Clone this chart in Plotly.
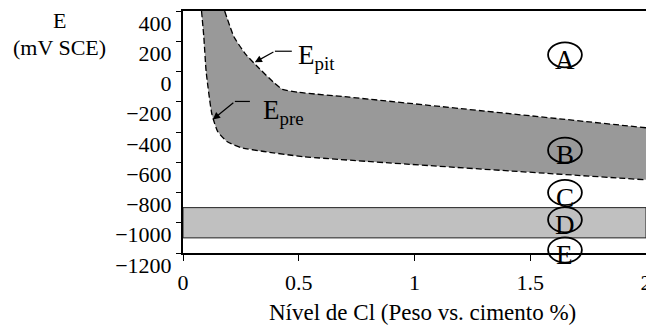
import plotly.graph_objects as go

# ---- data ----
epit_x = [0.18, 0.22, 0.27, 0.32, 0.39, 0.43, 0.50, 0.72, 2.0]
epit_y = [400, 230, 115, 35, -70, -118, -138, -170, -372]
epre_x = [0.08, 0.09, 0.10, 0.125, 0.15, 0.19, 0.25, 0.35, 0.52, 2.0]
epre_y = [400, 227, 0, -284, -397, -463, -503, -529, -563, -716]

band_d = [-1100, -900]           # imperfect passivity band (D)
zone_labels = ["A", "B", "C", "D", "E"]
zone_x = [1.65, 1.65, 1.65, 1.65, 1.65]
zone_y = [110, -520, -800, -980, -1180]

x_ticks = [0, 0.5, 1, 1.5, 2]
x_ticktext = ["0", "0.5", "1", "1.5", "2"]
y_ticks = [400, 200, 0, -200, -400, -600, -800, -1000, -1200]
x_range = [0, 2]
y_range = [-1200, 400]

FONT = "Liberation Serif, Times New Roman, DejaVu Serif, serif"

fig = go.Figure()

# lower curve (Epre)
fig.add_trace(go.Scatter(
    x=epre_x, y=epre_y, mode="lines",
    line=dict(color="black", width=1.3, dash="6px,3px", shape="spline", smoothing=0.5),
    showlegend=False, hoverinfo="skip"))
# upper curve (Epit) with fill to the lower one
fig.add_trace(go.Scatter(
    x=epit_x, y=epit_y, mode="lines", fill="tonexty", fillcolor="#999999",
    line=dict(color="black", width=1.3, dash="6px,3px", shape="spline", smoothing=0.5),
    showlegend=False, hoverinfo="skip"))

# D band
fig.add_shape(type="rect", xref="x", yref="y", x0=x_range[0], x1=x_range[1],
              y0=band_d[0], y1=band_d[1], fillcolor="#c0c0c0",
              line=dict(color="#222222", width=1), layer="below")

# zone ellipses + letters
hw, hh = 0.073, 83
for lab, zx, zy in zip(zone_labels, zone_x, zone_y):
    px0 = (zx - hw - x_range[0]) / (x_range[1] - x_range[0])
    px1 = (zx + hw - x_range[0]) / (x_range[1] - x_range[0])
    py0 = (zy - hh - y_range[0]) / (y_range[1] - y_range[0])
    py1 = (zy + hh - y_range[0]) / (y_range[1] - y_range[0])
    fig.add_shape(type="circle", xref="paper", yref="paper",
                  x0=px0, x1=px1, y0=py0, y1=py1,
                  line=dict(color="black", width=1.8), layer="above")
    fig.add_annotation(x=zx, y=zy, xref="x", yref="y", text=lab, showarrow=False,
                       yshift=-5, font=dict(family=FONT, size=27, color="black"))

# Epit / Epre labels with bent arrows
fig.add_annotation(x=0.31, y=61, ax=0.397, ay=134, axref="x", ayref="y",
                   xref="x", yref="y", text="", showarrow=True,
                   arrowhead=2, arrowsize=1.2, arrowwidth=1.2, arrowcolor="black")
fig.add_shape(type="line", xref="x", yref="y", x0=0.397, y0=134, x1=0.47, y1=134,
              line=dict(color="black", width=1.2))
fig.add_annotation(x=0.49, y=95, xref="x", yref="y", text="E<sub>pit</sub>",
                   showarrow=False, xanchor="left", yanchor="middle",
                   font=dict(family=FONT, size=27, color="black"))

fig.add_annotation(x=0.129, y=-317, ax=0.224, ay=-198, axref="x", ayref="y",
                   xref="x", yref="y", text="", showarrow=True,
                   arrowhead=2, arrowsize=1.2, arrowwidth=1.2, arrowcolor="black")
fig.add_shape(type="line", xref="x", yref="y", x0=0.224, y0=-198, x1=0.289, y1=-198,
              line=dict(color="black", width=1.2))
fig.add_annotation(x=0.335, y=-270, xref="x", yref="y", text="E<sub>pre</sub>",
                   showarrow=False, xanchor="left", yanchor="middle",
                   font=dict(family=FONT, size=27, color="black"))

# axis titles
fig.add_annotation(x=0.518, y=-0.244, xref="paper", yref="paper",
                   text="Nível de Cl (Peso vs. cimento %)", showarrow=False,
                   xanchor="center", yanchor="middle",
                   font=dict(family=FONT, size=23, color="black"))
fig.add_annotation(x=-0.266, y=0.96, xref="paper", yref="paper",
                   text="E", showarrow=False, xanchor="center", yanchor="middle",
                   font=dict(family=FONT, size=22, color="black"))
fig.add_annotation(x=-0.266, y=0.85, xref="paper", yref="paper",
                   text="(mV SCE)", showarrow=False, xanchor="center", yanchor="middle",
                   font=dict(family=FONT, size=22, color="black"))

fig.update_xaxes(range=x_range, tickvals=x_ticks, ticktext=x_ticktext,
                 showgrid=False, zeroline=False, showline=True, linecolor="black",
                 linewidth=2, mirror=True, ticks="outside", ticklen=6, tickwidth=1.3,
                 tickcolor="black", ticklabelstandoff=3, automargin=False,
                 ticklabeloverflow="allow",
                 tickfont=dict(family=FONT, size=22, color="black"))
fig.update_yaxes(range=y_range, tickvals=y_ticks,
                 showgrid=False, zeroline=False, showline=True, linecolor="black",
                 linewidth=2, mirror=True, ticks="outside", ticklen=5, tickwidth=1.3,
                 tickcolor="black", ticklabelshift=12, automargin=False,
                 ticklabeloverflow="allow",
                 tickfont=dict(family=FONT, size=22, color="black"))

fig.update_layout(width=654, height=325,
                  margin=dict(l=175, r=16, t=3, b=80, autoexpand=False),
                  plot_bgcolor="white", paper_bgcolor="white",
                  font=dict(family=FONT, color="black"))

fig.write_html("out.html")
